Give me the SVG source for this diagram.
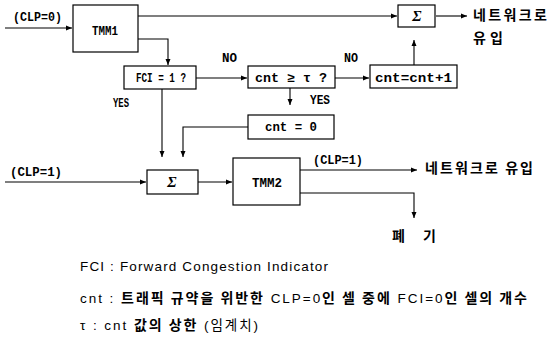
<svg xmlns="http://www.w3.org/2000/svg" width="547" height="343" viewBox="0 0 547 343">
<style>
.box{fill:#fff;stroke:#000;stroke-width:1.2}
.lbl{font-family:"Liberation Mono",monospace;font-weight:bold;font-size:12.5px;fill:#000}
.sig{font-family:"Liberation Serif",serif;font-style:italic;font-weight:bold;font-size:15px;fill:#000}
.kr{font-family:"Noto Sans CJK KR",sans-serif;font-weight:bold;font-size:14px;fill:#000}
.leg{font-family:"Liberation Sans","Noto Sans CJK KR",sans-serif;font-size:13.5px;fill:#000}
.b{font-family:"Noto Sans CJK KR",sans-serif;font-weight:bold;font-size:14px}
.c{fill:none;stroke:#000;stroke-width:1.1}
</style>
<defs>
<marker id="ah" markerWidth="7" markerHeight="6" refX="6" refY="3" orient="auto" markerUnits="userSpaceOnUse">
<path d="M0,0.5 L6,3 L0,5.5 Z" fill="#000"/>
</marker>
</defs>
<rect width="547" height="343" fill="#fff"/>
<g id="connectors">
<path class="c" d="M5,28 H72" marker-end="url(#ah)"/>
<path class="c" d="M137,16 H397" marker-end="url(#ah)"/>
<path class="c" d="M436,16 H467" marker-end="url(#ah)"/>
<path class="c" d="M137,39 H168 V65" marker-end="url(#ah)"/>
<path class="c" d="M196,78 H247" marker-end="url(#ah)"/>
<path class="c" d="M335,78 H369" marker-end="url(#ah)"/>
<path class="c" d="M414,65 V40" marker-end="url(#ah)"/>
<path class="c" d="M290,88 V105" marker-end="url(#ah)"/>
<path class="c" d="M162,89 V157" marker-end="url(#ah)"/>
<path class="c" d="M248,127 H183 V157" marker-end="url(#ah)"/>
<path class="c" d="M5,182 H146" marker-end="url(#ah)"/>
<path class="c" d="M198,182 H232" marker-end="url(#ah)"/>
<path class="c" d="M300,170 H417" marker-end="url(#ah)"/>
<path class="c" d="M300,193 H414 V218" marker-end="url(#ah)"/>
<text class="lbl" x="13" y="21" textLength="49" lengthAdjust="spacingAndGlyphs">(CLP=0)</text>
<text class="lbl" x="222" y="62" textLength="15" lengthAdjust="spacingAndGlyphs">NO</text>
<text class="lbl" x="344" y="62" textLength="14" lengthAdjust="spacingAndGlyphs">NO</text>
<text class="lbl" x="113" y="107" textLength="16" lengthAdjust="spacingAndGlyphs">YES</text>
<text class="lbl" x="310" y="104" textLength="20" lengthAdjust="spacingAndGlyphs">YES</text>
<text class="lbl" x="10" y="176" textLength="52" lengthAdjust="spacingAndGlyphs">(CLP=1)</text>
<text class="lbl" x="313" y="164" textLength="50" lengthAdjust="spacingAndGlyphs">(CLP=1)</text>
</g>
<g id="tmm1">
<rect class="box" x="73" y="5" width="65" height="47"/>
<text class="lbl" x="92" y="35" textLength="26" lengthAdjust="spacingAndGlyphs">TMM1</text>
</g>
<g id="sum1">
<rect class="box" x="398" y="5" width="37" height="22"/>
<text class="sig" x="417" y="21" text-anchor="middle">Σ</text>
</g>
<g id="out1">
<text class="kr" x="473" y="20" textLength="74">네트워크로</text>
<text class="kr" x="473" y="43" textLength="30">유입</text>
</g>
<g id="fci">
<rect class="box" x="124" y="66" width="72" height="23"/>
<text class="lbl" x="136" y="82" textLength="50" lengthAdjust="spacingAndGlyphs">FCI = 1 ?</text>
</g>
<g id="cmp">
<rect class="box" x="248" y="66" width="87" height="22"/>
<text class="lbl" x="255" y="82" textLength="72" lengthAdjust="spacingAndGlyphs">cnt ≥ τ ?</text>
</g>
<g id="inc">
<rect class="box" x="370" y="65" width="87" height="23"/>
<text class="lbl" x="375" y="82" textLength="77" lengthAdjust="spacingAndGlyphs">cnt=cnt+1</text>
</g>
<g id="reset">
<rect class="box" x="248" y="115" width="86" height="24"/>
<text class="lbl" x="265" y="131" textLength="52" lengthAdjust="spacingAndGlyphs">cnt = 0</text>
</g>
<g id="sum2">
<rect class="box" x="147" y="170" width="51" height="24"/>
<text class="sig" x="172" y="187" text-anchor="middle">Σ</text>
</g>
<g id="tmm2">
<rect class="box" x="233" y="158" width="67" height="47"/>
<text class="lbl" x="252" y="187" textLength="30" lengthAdjust="spacingAndGlyphs">TMM2</text>
</g>
<g id="out2">
<text class="kr" x="425" y="173" textLength="108">네트워크로 유입</text>
</g>
<g id="discard">
<text class="kr" x="392" y="241">폐</text>
<text class="kr" x="423" y="241">기</text>
</g>
<g id="legend">
<text class="leg" x="80" y="271" textLength="248">FCI : Forward Congestion Indicator</text>
<text class="leg" x="80" y="303" textLength="447">cnt : <tspan class="b">트래픽 규약을 위반한</tspan> CLP=0<tspan class="b">인 셀 중에</tspan> FCI=0<tspan class="b">인 셀의 개수</tspan></text>
<text class="leg" x="80" y="330" textLength="178">τ : cnt <tspan class="b">값의 상한</tspan> (임계치)</text>
</g>
</svg>
